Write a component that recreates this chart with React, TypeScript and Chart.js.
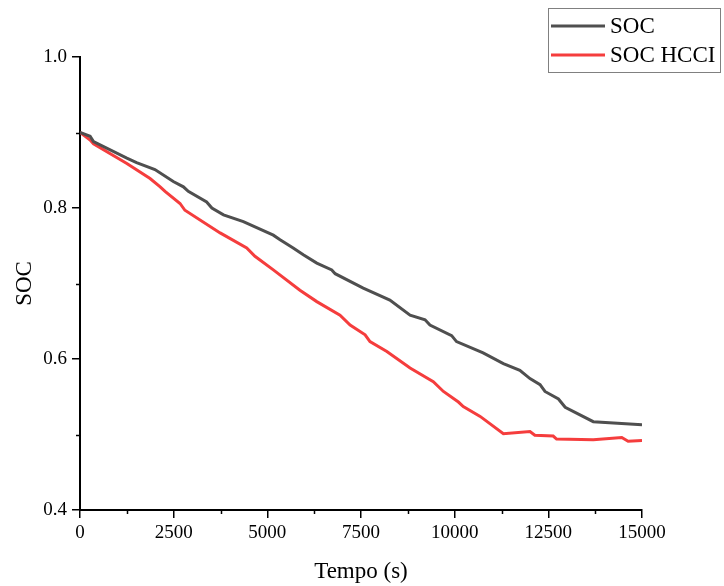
import React, { useEffect, useRef } from "react";
import { Chart, registerables } from "chart.js";

Chart.register(...registerables);

const seriesLabels = ["SOC", "SOC HCCI"];
const seriesColors = ["#4f4f4f", "#f53d3d"];

const timeSoc = [0, 270, 360, 1250, 1510, 2000, 2490, 2760, 2890, 3380, 3520, 3830, 4360, 5160, 5340, 5690, 5960, 6320, 6720, 6810, 7560, 8270, 8810, 9210, 9340, 9920, 10050, 10760, 11300, 11740, 12010, 12280, 12410, 12770, 12950, 13700, 15000];
const soc = [0.900, 0.895, 0.888, 0.866, 0.860, 0.851, 0.835, 0.828, 0.822, 0.808, 0.800, 0.791, 0.782, 0.764, 0.758, 0.747, 0.738, 0.727, 0.718, 0.713, 0.694, 0.678, 0.658, 0.652, 0.645, 0.631, 0.623, 0.608, 0.594, 0.585, 0.574, 0.566, 0.557, 0.547, 0.536, 0.517, 0.513];

const timeHcci = [0, 270, 360, 1250, 1870, 2140, 2270, 2670, 2800, 3740, 4450, 4670, 5160, 5870, 6320, 6940, 7210, 7610, 7740, 8190, 8810, 9430, 9700, 10100, 10230, 10680, 11300, 12010, 12140, 12630, 12720, 13700, 14460, 14630, 15000];
const socHcci = [0.900, 0.890, 0.885, 0.859, 0.839, 0.828, 0.822, 0.806, 0.797, 0.767, 0.747, 0.736, 0.718, 0.691, 0.676, 0.658, 0.645, 0.632, 0.623, 0.610, 0.588, 0.570, 0.557, 0.543, 0.537, 0.524, 0.501, 0.504, 0.499, 0.498, 0.494, 0.493, 0.496, 0.491, 0.492];

const xMin = 0;
const xMax = 15000;
const xStep = 2500;
const yMin = 0.4;
const yMax = 1.0;
const yStep = 0.2;
const xTitle = "Tempo (s)";
const yTitle = "SOC";

const FONT = "'Liberation Serif', 'Times New Roman', serif";

const minorTicks = {
  id: "minorTicks",
  afterDraw(chart: any) {
    const { ctx, chartArea, scales } = chart;
    ctx.save();
    ctx.strokeStyle = "#000";
    ctx.lineWidth = 1.5;
    for (let v = xMin + xStep / 2; v < xMax; v += xStep) {
      const px = Math.round(scales.x.getPixelForValue(v)) + 0.5;
      ctx.beginPath();
      ctx.moveTo(px, chartArea.bottom);
      ctx.lineTo(px, chartArea.bottom + 4);
      ctx.stroke();
    }
    for (let v = yMin + yStep / 2; v < yMax; v += yStep) {
      const py = Math.round(scales.y.getPixelForValue(v)) + 0.5;
      ctx.beginPath();
      ctx.moveTo(chartArea.left, py);
      ctx.lineTo(chartArea.left - 4, py);
      ctx.stroke();
    }
    ctx.restore();
  },
};

const boxLegend = {
  id: "boxLegend",
  afterDraw(chart: any) {
    const { ctx } = chart;
    const left = 548;
    const top = 8;
    const width = 172;
    const rowH = 29;
    const height = 64;
    ctx.save();
    ctx.fillStyle = "#fff";
    ctx.fillRect(left, top, width, height);
    ctx.strokeStyle = "#808080";
    ctx.lineWidth = 1;
    ctx.strokeRect(left + 0.5, top + 0.5, width, height);
    ctx.font = `23px ${FONT}`;
    ctx.textBaseline = "middle";
    ctx.textAlign = "left";
    chart.data.datasets.forEach((ds: any, i: number) => {
      const y = top + 18 + i * rowH;
      ctx.strokeStyle = ds.borderColor;
      ctx.lineWidth = 3;
      ctx.beginPath();
      ctx.moveTo(left + 3, y);
      ctx.lineTo(left + 57, y);
      ctx.stroke();
      ctx.fillStyle = "#000";
      ctx.fillText(ds.label, left + 62, y + 1);
    });
    ctx.restore();
  },
};

export default function App() {
  const ref = useRef<HTMLCanvasElement>(null);

  useEffect(() => {
    if (!ref.current) return;
    const chart = new Chart(ref.current, {
      type: "line",
      data: {
        datasets: [
          {
            label: seriesLabels[0],
            data: timeSoc.map((t, i) => ({ x: t, y: soc[i] })),
            borderColor: seriesColors[0],
            backgroundColor: seriesColors[0],
            borderWidth: 3,
            pointRadius: 0,
            tension: 0,
          },
          {
            label: seriesLabels[1],
            data: timeHcci.map((t, i) => ({ x: t, y: socHcci[i] })),
            borderColor: seriesColors[1],
            backgroundColor: seriesColors[1],
            borderWidth: 3,
            pointRadius: 0,
            tension: 0,
          },
        ],
      },
      options: {
        animation: false,
        responsive: false,
        devicePixelRatio: 1,
        layout: { padding: { top: 57, right: 82, left: 0, bottom: 0 } },
        plugins: { legend: { display: false }, tooltip: { enabled: false } },
        scales: {
          x: {
            type: "linear",
            min: xMin,
            max: xMax,
            afterFit: (s: any) => {
              s.height = 76;
            },
            afterBuildTicks: (s: any) => {
              const t = [];
              for (let v = xMin; v <= xMax; v += xStep) t.push({ value: v });
              s.ticks = t;
            },
            border: { color: "#000", width: 2 },
            grid: {
              drawOnChartArea: false,
              drawTicks: true,
              tickLength: 8,
              color: "#000",
              lineWidth: 1.5,
            },
            ticks: {
              color: "#000",
              font: { family: FONT, size: 19 },
              padding: 4,
              maxRotation: 0,
              autoSkip: false,
              callback: (v: any) => String(v),
            },
            title: {
              display: true,
              text: xTitle,
              color: "#000",
              font: { family: FONT, size: 23 },
              padding: { top: 0, bottom: 0 },
            },
          },
          y: {
            type: "linear",
            min: yMin,
            max: yMax,
            afterFit: (s: any) => {
              s.width = 80;
            },
            afterBuildTicks: (s: any) => {
              const t = [];
              for (let k = 0; k <= Math.round((yMax - yMin) / yStep); k++)
                t.push({ value: +(yMin + k * yStep).toFixed(2) });
              s.ticks = t;
            },
            border: { color: "#000", width: 2 },
            grid: {
              drawOnChartArea: false,
              drawTicks: true,
              tickLength: 8,
              color: "#000",
              lineWidth: 1.5,
            },
            ticks: {
              color: "#000",
              font: { family: FONT, size: 19 },
              padding: 5,
              callback: (v: any) => Number(v).toFixed(1),
            },
            title: {
              display: true,
              text: yTitle,
              color: "#000",
              font: { family: FONT, size: 23 },
              padding: { top: 11, bottom: 0 },
            },
          },
        },
      },
      plugins: [minorTicks, boxLegend],
    });
    return () => chart.destroy();
  }, []);

  return (
    <div style={{ position: "absolute", left: 0, top: 0, width: 724, height: 586, background: "#fff" }}>
      <canvas ref={ref} width={724} height={586} style={{ display: "block" }} />
    </div>
  );
}
